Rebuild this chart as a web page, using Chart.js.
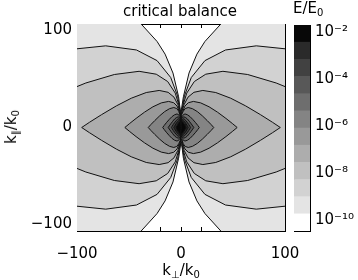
<!DOCTYPE html>
<html>
<head>
<meta charset="utf-8">
<script src="https://cdn.jsdelivr.net/npm/chart.js@4.4.1/dist/chart.umd.min.js"></script>
<style>
  html, body { margin: 0; padding: 0; background: #fff; }
  #wrap { position: relative; width: 358px; height: 280px; overflow: hidden; font-family: "DejaVu Sans", sans-serif; color: #000; }
  #main { position: absolute; left: 0; top: 0; }
  #bar { position: absolute; left: 290px; top: 0; }
  .lbl { position: absolute; font-size: 15px; line-height: 18px; white-space: nowrap; }
  .lbl sub { font-size: 10px; vertical-align: -3px; line-height: 0; }
</style>
</head>
<body>
<div id="wrap">
  <canvas id="main" width="358" height="280"></canvas>
  <canvas id="bar" width="72" height="280"></canvas>
  <div class="lbl" style="left:180px; top:2px; transform:translateX(-50%);">critical balance</div>
  <div class="lbl" style="left:181px; top:261px; transform:translateX(-50%);">k<sub>⊥</sub>/k<sub>0</sub></div>
  <div class="lbl" style="left:11px; top:127px; transform:translate(-50%,-50%) rotate(-90deg);">k<sub>∥</sub>/k<sub>0</sub></div>
  <div class="lbl" style="left:293px; top:-1px;">E/E<sub>0</sub></div>
</div>
<script>
// axis ticks (k_perp/k0 and k_par/k0 share the same range)
const tickSteps = [-100, -80, -60, -40, -20, 0, 20, 40, 60, 80, 100];
const majorTicks = [-100, 0, 100];
const majorTickText = ['\u2212100', '0', '100'];

// contour lines, upper-right quadrant, [k_perp, k_par] from origin outwards
// (the spectrum is symmetric in both axes); outermost level first
const contour1 = [[0, 0], [0.038, 3.3], [0.15, 7.2], [0.77, 17], [2.3, 29.7], [7.7, 52.6], [15.3, 70.9], [23, 83.1], [38.3, 100], [53.6, 111.2], [99.6, 128.9], [168.5, 135.8], [766, 0]];
const contour2 = [[0, 0], [0.033, 2.8], [0.16, 6.9], [0.99, 17.3], [3.3, 30.6], [9.9, 48.3], [23, 64.6], [42.8, 74.9], [72.4, 78.9], [115, 74.5], [329, 0]];
const contour3 = [[0, 0], [0.037, 2.9], [0.09, 4.7], [0.55, 11.9], [1.83, 21], [5.5, 33.2], [12.8, 44.4], [23.8, 51.5], [40.3, 54.3], [64.1, 51.2], [91.5, 43], [119, 31.8], [183, 0]];
const contour4 = [[0, 0], [0.048, 3.1], [0.29, 7.8], [0.96, 13.9], [2.87, 21.9], [6.7, 29.3], [12.4, 34], [21, 35.8], [33.4, 33.8], [47.8, 28.3], [62.1, 20.9], [76.4, 12.4], [87.9, 5.1], [95.5, 0]];
const contour5 = [[0, 0], [0.027, 2.2], [0.16, 5.5], [0.54, 9.8], [1.62, 15.4], [3.78, 20.7], [7, 23.9], [11.9, 25.2], [18.9, 23.8], [27, 20], [35.1, 14.8], [43.2, 8.8], [49.7, 3.6], [54, 0]];
const contour6 = [[0, 0], [0.016, 1.7], [0.095, 4.2], [0.32, 7.5], [0.95, 11.8], [2.2, 15.8], [4.1, 18.3], [6.9, 19.3], [11, 18.2], [15.8, 15.3], [20.5, 11.3], [25.2, 6.7], [29, 2.8], [31.5, 0]];
const contour7 = [[0, 0], [0.009, 1.1], [0.053, 2.9], [0.18, 5.1], [0.53, 8], [1.23, 10.7], [2.29, 12.4], [3.87, 13.1], [6.16, 12.3], [8.8, 10.4], [11.4, 7.7], [14.1, 4.6], [16.2, 1.9], [17.6, 0]];
const contour8 = [[0, 0], [0.037, 2.3], [0.12, 4], [0.37, 6.3], [0.86, 8.5], [1.6, 9.8], [2.7, 10.3], [4.3, 9.7], [6.15, 8.2], [8, 6], [9.8, 3.6], [11.3, 1.5], [12.3, 0]];
const contour9 = [[0, 0], [0.028, 1.9], [0.09, 3.3], [0.28, 5.2], [0.64, 7], [1.2, 8.1], [2, 8.5], [3.2, 8], [4.6, 6.7], [6, 5], [7.4, 3], [8.5, 1.2], [9.2, 0]];
const contour10 = [[0, 0], [0.07, 2.7], [0.21, 4.3], [0.48, 5.7], [0.9, 6.7], [1.5, 7], [2.4, 6.6], [3.45, 5.5], [4.5, 4.1], [5.5, 2.4], [6.35, 1], [6.9, 0]];
const contour11 = [[0, 0], [0.05, 2.1], [0.14, 3.4], [0.34, 4.5], [0.62, 5.2], [1.06, 5.5], [1.7, 5.2], [2.4, 4.4], [3.1, 3.2], [3.84, 1.9], [4.4, 0.8], [4.8, 0]];

// colour bands, lowest level (white) to highest (black)
const bandGrays = ['#ffffff', '#e4e4e4', '#d2d2d2', '#c0c0c0', '#adadad', '#999999', '#848484', '#6e6e6e', '#585858', '#414141', '#2a2a2a', '#080808'];
// E/E0 band edges on the colour bar
const colorbarEdges = [3.4e-11, 1.82e-10, 9.8e-10, 5.25e-9, 2.82e-8, 1.51e-7, 8.1e-7, 4.37e-6, 2.34e-5, 1.26e-4, 6.76e-4, 3.63e-3, 1.95e-2];
const colorbarTicks = [1e-10, 1e-8, 1e-6, 1e-4, 1e-2];
const colorbarTickText = ['10\u207B\u00B9\u2070', '10\u207B\u2078', '10\u207B\u2076', '10\u207B\u2074', '10\u207B\u00B2'];

const contours = [contour1, contour2, contour3, contour4, contour5, contour6, contour7, contour8, contour9, contour10, contour11];

const tickFont = { family: 'DejaVu Sans', size: 15 };
const yTickFont = { family: 'DejaVu Sans', size: 15, lineHeight: '13px' };

// mirror one quadrant into the closed two-lobe shape of a level
function levelShape(q) {
    const upperRight = q.map(([x, y]) => ({ x: x, y: y }));
    const lowerRight = q.slice(0, -1).reverse().map(([x, y]) => ({ x: x, y: -y }));
    const lowerLeft = q.slice(1).map(([x, y]) => ({ x: -x, y: -y }));
    const upperLeft = q.slice(0, -1).reverse().map(([x, y]) => ({ x: -x, y: y }));
    return [...upperRight, ...lowerRight, ...lowerLeft, ...upperLeft];
}

function tickText(value) {
    const i = majorTicks.indexOf(value);
    return i >= 0 ? majorTickText[i] : '';
}

// IDL-style y labels: end labels are pulled inside the frame
function yTickText(value) {
    const text = tickText(value);
    if (value === 100) return ['', text];
    if (value === -100) return [text, ''];
    return text;
}

function frameAxis(position, showLabels, size) {
    const horizontal = position === 'top' || position === 'bottom';
    return {
        type: 'linear',
        position: position,
        min: -100,
        max: 100,
        z: 1,
        afterBuildTicks: (scale) => { scale.ticks = tickSteps.map(v => ({ value: v })); },
        afterFit: (scale) => {
            if (horizontal) scale.height = size; else scale.width = size;
            scale.paddingLeft = 0;
            scale.paddingRight = 0;
            scale.paddingTop = 0;
            scale.paddingBottom = 0;
        },
        ticks: {
            display: showLabels,
            autoSkip: false,
            maxRotation: 0,
            font: horizontal ? tickFont : yTickFont,
            color: '#000',
            padding: horizontal ? 18 : 9,
            callback: (value) => (horizontal ? tickText(value) : yTickText(value))
        },
        grid: {
            drawOnChartArea: false,
            drawTicks: true,
            tickLength: -4,
            color: '#000',
            lineWidth: 1
        },
        border: { display: true, color: '#000', width: 1 }
    };
}

const contourDatasets = contours.map((q, i) => ({
    data: levelShape(q),
    showLine: true,
    fill: 'shape',
    backgroundColor: bandGrays[i + 1],
    borderColor: '#111',
    borderWidth: 1,
    pointRadius: 0,
    tension: 0,
    clip: 0,
    order: contours.length - i
}));

new Chart(document.getElementById('main'), {
    type: 'scatter',
    data: { datasets: contourDatasets },
    options: {
        responsive: false,
        animation: false,
        events: [],
        layout: { padding: { left: 0, top: 24, right: 73, bottom: 0 } },
        plugins: { legend: { display: false }, tooltip: { enabled: false } },
        scales: {
            x: frameAxis('bottom', true, 49),
            y: frameAxis('left', true, 77),
            x2: frameAxis('top', false, 0),
            y2: frameAxis('right', false, 0)
        }
    }
});

// colour bar
const bandDatasets = bandGrays.map((c, i) => ({
    data: [[colorbarEdges[i], colorbarEdges[i + 1]]],
    backgroundColor: c,
    borderWidth: 0,
    barPercentage: 1,
    categoryPercentage: 1,
    grouped: false
}));

function edgeAxis(position, extra) {
    return Object.assign({
        position: position,
        z: 1,
        ticks: { display: false },
        grid: { display: false, drawTicks: false },
        border: { display: true, color: '#000', width: 1 },
        afterFit: (scale) => {
            if (position === 'top' || position === 'bottom') scale.height = 0; else scale.width = 0;
            scale.paddingLeft = 0;
            scale.paddingRight = 0;
            scale.paddingTop = 0;
            scale.paddingBottom = 0;
        }
    }, extra);
}

new Chart(document.getElementById('bar'), {
    type: 'bar',
    data: { labels: [''], datasets: bandDatasets },
    options: {
        responsive: false,
        animation: false,
        events: [],
        layout: { padding: { left: 4, top: 25, right: 0, bottom: 49 } },
        plugins: { legend: { display: false }, tooltip: { enabled: false } },
        scales: {
            x: edgeAxis('bottom', { type: 'category' }),
            xTop: edgeAxis('top', { type: 'category' }),
            yLeft: edgeAxis('left', { type: 'logarithmic', min: colorbarEdges[0], max: colorbarEdges[colorbarEdges.length - 1] }),
            y: {
                type: 'logarithmic',
                position: 'right',
                min: colorbarEdges[0],
                max: colorbarEdges[colorbarEdges.length - 1],
                z: 1,
                afterBuildTicks: (scale) => { scale.ticks = colorbarTicks.map(v => ({ value: v })); },
                afterFit: (scale) => {
                    scale.width = 52;
                    scale.paddingTop = 0;
                    scale.paddingBottom = 0;
                },
                ticks: {
                    font: tickFont,
                    color: '#000',
                    padding: 5,
                    callback: (value, index) => colorbarTickText[index]
                },
                grid: { display: false, drawTicks: false },
                border: { display: true, color: '#000', width: 1 }
            }
        }
    }
});
</script>
</body>
</html>
